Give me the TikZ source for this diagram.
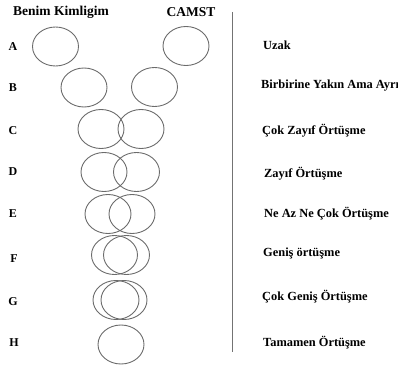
\documentclass[tikz,border=0pt]{standalone}
\usepackage{fontspec}
\setmainfont{Liberation Serif}
\usetikzlibrary{shapes.geometric}
\begin{document}
\begin{tikzpicture}[x=1pt,y=-1pt,
  ring/.style={ellipse,draw=black!58,line width=0.9pt,inner sep=0pt,
    minimum width=46pt,minimum height=39pt},
  head/.style={font=\fontsize{13.5}{15}\selectfont\bfseries,inner sep=0pt},
  rowlbl/.style={font=\fontsize{12}{14}\selectfont\bfseries,inner sep=0pt},
  desc/.style={font=\fontsize{12.4}{14}\selectfont\bfseries,inner sep=0pt,anchor=west},
  divider/.style={draw=black!55,line width=0.9pt}]
\useasboundingbox (0,0) rectangle (398,366);
\clip (0,0) rectangle (398,366);

% column headings
\node[head] (h1) at (61,12) {Benim Kimligim};
\node[head] (h2) at (191,12) {CAMST};

% row letters
\node[rowlbl] (lA) at (13,47) {A};
\node[rowlbl] (lB) at (13,88) {B};
\node[rowlbl] (lC) at (13,131) {C};
\node[rowlbl] (lD) at (13,172) {D};
\node[rowlbl] (lE) at (13,214) {E};
\node[rowlbl] (lF) at (14,259) {F};
\node[rowlbl] (lG) at (13,302) {G};
\node[rowlbl] (lH) at (14,343) {H};

% pairs of circles, from far apart to fully overlapping
\node[ring] (a1) at (55.5,46.5) {};
\node[ring] (a2) at (186,46) {};
\node[ring] (b1) at (84,87.5) {};
\node[ring] (b2) at (154.5,87) {};
\node[ring] (c1) at (101,129) {};
\node[ring] (c2) at (141,129) {};
\node[ring] (d1) at (104,172) {};
\node[ring] (d2) at (136.5,172) {};
\node[ring] (e1) at (108,214) {};
\node[ring] (e2) at (132,214) {};
\node[ring] (f1) at (114.5,255) {};
\node[ring] (f2) at (126.5,255) {};
\node[ring] (g1) at (116,300) {};
\node[ring] (g2) at (124,300) {};
\node[ring] (hh) at (121,344.5) {};

% divider
\coordinate (top) at (232.5,12);
\coordinate (bot) at (232.5,352);
\draw[divider] (top) -- (bot);

% descriptions
\node[desc] (tA) at (263,45) {Uzak};
\node[desc] (tB) at (261,86) {Birbirine Yakın Ama Ayrı};
\node[desc] (tC) at (262,131) {Çok Zayıf Örtüşme};
\node[desc] (tD) at (264,174) {Zayıf Örtüşme};
\node[desc] (tE) at (264,214) {Ne Az Ne Çok Örtüşme};
\node[desc] (tF) at (263,253) {Geniş örtüşme};
\node[desc] (tG) at (262,297) {Çok Geniş Örtüşme};
\node[desc] (tH) at (263,343) {Tamamen Örtüşme};
\end{tikzpicture}
\end{document}
